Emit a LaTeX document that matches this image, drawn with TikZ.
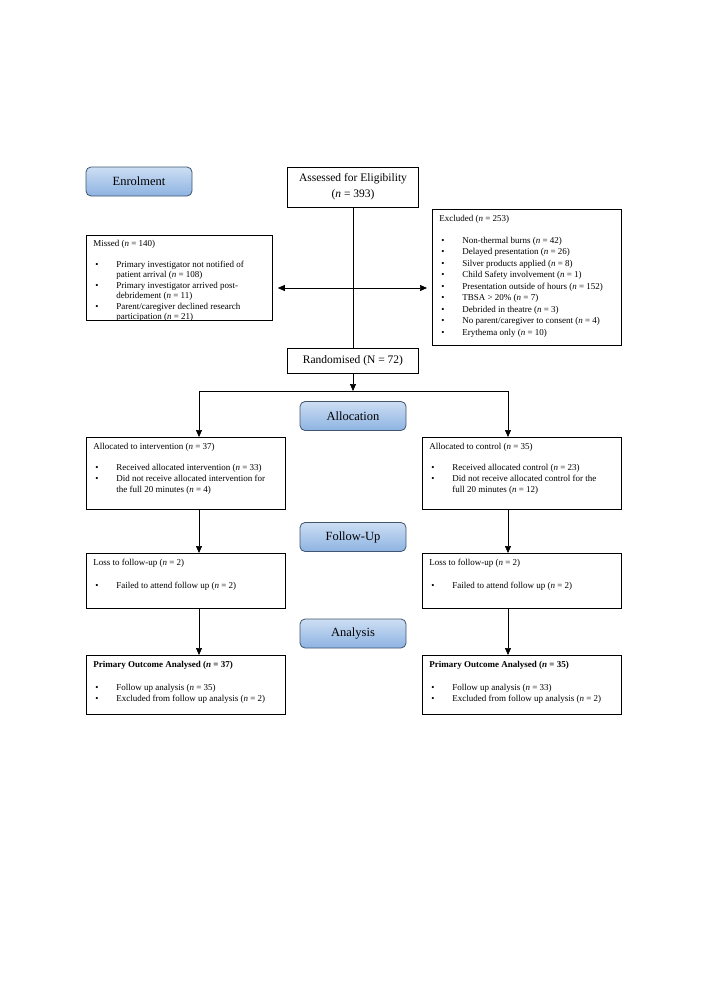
\documentclass[tikz,border=0pt]{standalone}
\usepackage{fontspec}
\setmainfont{Liberation Serif}
\usetikzlibrary{arrows.meta}
\definecolor{lblfillA}{RGB}{205,222,243}
\definecolor{lblfillB}{RGB}{141,179,226}
\definecolor{lblborder}{RGB}{65,85,110}
\newcommand{\bitem}[1]{\par\hangindent=23pt\hangafter=1\noindent\strut\makebox[23pt][l]{\hspace{2pt}\textbullet}#1\strut}
\newcommand{\bxbody}[4]{\parbox[t][#2][t]{#1}{\fontsize{9}{#3}\selectfont\raggedright\leftskip=7pt\parindent=0pt\vspace*{4pt}#4}}
\newcommand{\nn}{\textit{n}}
\begin{document}
\begin{tikzpicture}[x=1pt,y=-1pt,
  lbl/.style={draw=lblborder, line width=0.8pt, rounded corners=5pt, top color=lblfillA, bottom color=lblfillB,
    minimum width=106pt, minimum height=29pt, font=\fontsize{12.5}{14}\selectfont, inner sep=0pt},
  bx/.style={draw, line width=0.8pt, inner sep=0pt, anchor=north west},
  ttl/.style={draw, line width=0.8pt, align=center, font=\fontsize{11.5}{16}\selectfont, inner sep=0pt, minimum width=131pt},
  conn/.style={line width=0.7pt},
  arr/.style={conn, -{Triangle[length=7pt,width=6pt]}},
  arrboth/.style={conn, {Triangle[length=7pt,width=6pt]}-{Triangle[length=7pt,width=6pt]}}]
\useasboundingbox[fill=white] (0,0) rectangle (708,1001);

\node[lbl] (enrol) at (139,181.5) {Enrolment};
\node[ttl, minimum height=40pt] (assess) at (353,187) {Assessed for Eligibility\\(\nn{} = 393)};

\node[bx] (missed) at (86,235) {\bxbody{186pt}{85pt}{10.5}{%
\strut Missed (\nn{} = 140)\par\vspace{10pt}
\bitem{Primary investigator not notified of\newline patient arrival (\nn{} = 108)}
\bitem{Primary investigator arrived post-\newline debridement (\nn{} = 11)}
\bitem{Parent/caregiver declined research\newline participation (\nn{} = 21)}}};

\node[bx] (excl) at (432,209) {\bxbody{189pt}{136pt}{11.5}{%
\strut Excluded (\nn{} = 253)\par\vspace{10.5pt}
\bitem{Non-thermal burns (\nn{} = 42)}
\bitem{Delayed presentation (\nn{} = 26)}
\bitem{Silver products applied (\nn{} = 8)}
\bitem{Child Safety involvement (\nn{} = 1)}
\bitem{Presentation outside of hours (\nn{} = 152)}
\bitem{TBSA > 20\% (\nn{} = 7)}
\bitem{Debrided in theatre (\nn{} = 3)}
\bitem{No parent/caregiver to consent (\nn{} = 4)}
\bitem{Erythema only (\nn{} = 10)}}};

\node[ttl, minimum height=25pt] (rand) at (353,360.5) {Randomised (N = 72)};
\node[lbl] (alloc) at (353,416) {Allocation};

\node[bx] (lalloc) at (86,437) {\bxbody{199pt}{72pt}{11}{%
\strut Allocated to intervention (\nn{} = 37)\par\vspace{10pt}
\bitem{Received allocated intervention (\nn{} = 33)}
\bitem{Did not receive allocated intervention for\newline the full 20 minutes (\nn{} = 4)}}};
\node[bx] (ralloc) at (422,437) {\bxbody{199pt}{72pt}{11}{%
\strut Allocated to control (\nn{} = 35)\par\vspace{10pt}
\bitem{Received allocated control (\nn{} = 23)}
\bitem{Did not receive allocated control for the\newline full 20 minutes (\nn{} = 12)}}};

\node[lbl] (fu) at (353,537) {Follow-Up};

\node[bx] (lloss) at (86,553) {\bxbody{199pt}{55pt}{11}{%
\strut Loss to follow-up (\nn{} = 2)\par\vspace{12pt}
\bitem{Failed to attend follow up (\nn{} = 2)}}};
\node[bx] (rloss) at (422,553) {\bxbody{199pt}{55pt}{11}{%
\strut Loss to follow-up (\nn{} = 2)\par\vspace{12pt}
\bitem{Failed to attend follow up (\nn{} = 2)}}};

\node[lbl] (anal) at (353,633.5) {Analysis};

\node[bx] (lprim) at (86,655) {\bxbody{199pt}{59pt}{11}{%
\strut\textbf{Primary Outcome Analysed (\textit{\textbf{n}} = 37)}\par\vspace{12pt}
\bitem{Follow up analysis (\nn{} = 35)}
\bitem{Excluded from follow up analysis (\nn{} = 2)}}};
\node[bx] (rprim) at (422,655) {\bxbody{199pt}{59pt}{11}{%
\strut\textbf{Primary Outcome Analysed (\textit{\textbf{n}} = 35)}\par\vspace{12pt}
\bitem{Follow up analysis (\nn{} = 33)}
\bitem{Excluded from follow up analysis (\nn{} = 2)}}};

% connectors
\coordinate (cross) at (353,288);
\coordinate (split) at (353,391);
\coordinate (splitL) at (199,391);
\coordinate (splitR) at (508,391);
\draw[conn] (assess.south) -- (rand.north);
\draw[arrboth] ([xshift=5pt]cross -| missed.east) -- ([xshift=-5pt]cross -| excl.west);
\draw[arr] (rand.south) -- (split);
\draw[conn] (splitL) -- (splitR);
\draw[arr] (splitL) -- (splitL |- lalloc.north);
\draw[arr] (splitR) -- (splitR |- ralloc.north);
\draw[arr] (splitL |- lalloc.south) -- (splitL |- lloss.north);
\draw[arr] (splitR |- ralloc.south) -- (splitR |- rloss.north);
\draw[arr] (splitL |- lloss.south) -- (splitL |- lprim.north);
\draw[arr] (splitR |- rloss.south) -- (splitR |- rprim.north);
\end{tikzpicture}
\end{document}
